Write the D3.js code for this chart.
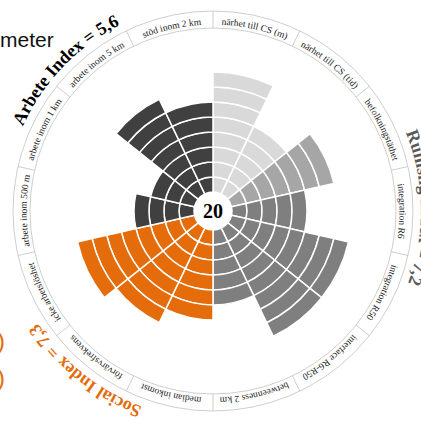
<!DOCTYPE html>
<html><head><meta charset="utf-8">
<script src="https://cdn.jsdelivr.net/npm/d3@7"></script>
<style>html,body{margin:0;padding:0;background:#fff;overflow:hidden}</style>
</head><body>
<svg id="c" width="421" height="421"></svg>
<script>
// ---- data ----
const categories = ["närhet till CS (m)", "närhet till CS (tid)", "befolkningstäthet", "integration R6",
  "integration R50", "interface R6-R50", "betweenness 2 km", "median inkomst", "förvärvsfrekvens",
  "icke arbetslöshet", "arbete inom 500 m", "arbete inom 1 km", "arbete inom 5 km", "stöd inom 2 km"];
const values = [8, 5, 7, 5, 8, 8, 5, 6, 7, 8, 4, 3, 7, 6];
const shades = ["r1", "r1", "r2", "r3", "r3", "r3", "r3", "s", "s", "s", "a", "a", "a", "a"];
const groupLabels = ["Rumslig Index = 7,2", "Social Index = 7,3", "Arbete Index = 5,6"];
const groupFirst = ["närhet till CS (m)", "median inkomst", "arbete inom 500 m"];
const groupLast = ["betweenness 2 km", "icke arbetslöshet", "stöd inom 2 km"];
const centerLabel = "20";
const valueMax = 10;

// ---- style ----
const shadeColor = d3.scaleOrdinal().domain(["r1", "r2", "r3", "s", "a"])
  .range(["#d9d9d9", "#a6a6a6", "#7f7f7f", "#e46c0a", "#404040"]);
const groupColor = ["#595959", "#e46c0a", "#000000"];
const groupShiftDeg = [-1, 0, 5];
const cx = 213, cy = 211;
const rInner = 19, rMax = 169, ringIn = 183, ringOut = 200, labelR = 186.5, groupR = 208;

const svg = d3.select("#c");
const g = svg.append("g").attr("transform", `translate(${cx},${cy})`);

const x = d3.scaleBand().domain(categories).range([0, 2 * Math.PI]).padding(0);
const y = d3.scaleLinear().domain([0, valueMax]).range([rInner, rMax]);
const bw = x.bandwidth();

// bars as unit segments
const segs = [];
categories.forEach((c, i) => {
  d3.range(values[i]).forEach(k => segs.push({c, i, k}));
});
const arc = d3.arc();
g.append("g").selectAll("path").data(segs).join("path")
  .attr("d", d => arc({innerRadius: y(d.k), outerRadius: y(d.k + 1), startAngle: x(d.c), endAngle: x(d.c) + bw}))
  .attr("fill", d => shadeColor(shades[d.i]))
  .attr("stroke", "#fff").attr("stroke-width", 1.5);

// center
g.append("circle").attr("r", rInner).attr("fill", "#fff");
g.append("text").text(centerLabel).attr("text-anchor", "middle").attr("dy", "0.35em")
  .attr("font-family", "Liberation Serif").attr("font-weight", "bold").attr("font-size", 20);

// label ring
g.append("circle").attr("r", ringIn).attr("fill", "none").attr("stroke", "#c8c8c8").attr("stroke-width", 0.9);
g.append("circle").attr("r", ringOut).attr("fill", "none").attr("stroke", "#c8c8c8").attr("stroke-width", 0.9);
g.append("g").selectAll("line").data(categories).join("line")
  .attr("x1", d => ringIn * Math.sin(x(d))).attr("y1", d => -ringIn * Math.cos(x(d)))
  .attr("x2", d => ringOut * Math.sin(x(d))).attr("y2", d => -ringOut * Math.cos(x(d)))
  .attr("stroke", "#c8c8c8").attr("stroke-width", 0.9);

function circlePath(r) {
  return `M0,${-r} A${r},${r} 0 1 1 0,${r} A${r},${r} 0 1 1 0,${-r}`;
}
const defs = svg.append("defs");
defs.append("path").attr("id", "lp").attr("d", circlePath(labelR));
defs.append("path").attr("id", "gp").attr("d", circlePath(groupR));

g.append("g").selectAll("text").data(categories).join("text")
  .attr("font-family", "Liberation Serif").attr("font-size", 9.5).attr("fill", "#1a1a1a")
  .append("textPath").attr("href", "#lp")
  .attr("startOffset", d => (x(d) + bw / 2) * labelR)
  .attr("text-anchor", "middle").text(d => d);

// group labels
g.append("g").selectAll("text").data(groupLabels).join("text")
  .attr("font-family", "Liberation Serif").attr("font-weight", "bold").attr("font-size", 18)
  .attr("fill", (d, i) => groupColor[i])
  .append("textPath").attr("href", "#gp")
  .attr("startOffset", (d, i) => ((x(groupFirst[i]) + x(groupLast[i]) + bw) / 2 + groupShiftDeg[i] * Math.PI / 180) * groupR)
  .attr("text-anchor", "middle").text(d => d);

// cut-off fragments at the edges
svg.append("text").attr("x", 0).attr("y", 47).text("meter")
  .attr("font-family", "Liberation Sans").attr("font-size", 21).attr("fill", "#111");
svg.append("text").attr("x", -3).attr("y", 349).text(")")
  .attr("font-family", "Liberation Sans").attr("font-size", 24).attr("fill", "#e46c0a");
svg.append("text").attr("x", -3).attr("y", 386).text(")")
  .attr("font-family", "Liberation Sans").attr("font-size", 24).attr("fill", "#e46c0a");
</script>
</body></html>
